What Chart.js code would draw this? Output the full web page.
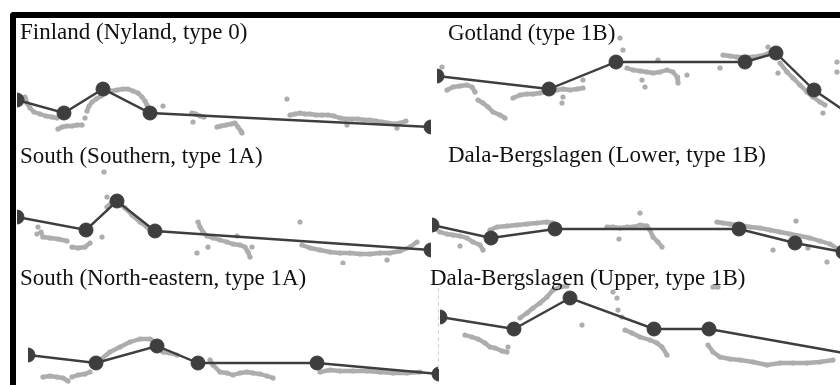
<!DOCTYPE html>
<html>
<head>
<meta charset="utf-8">
<script src="https://cdn.jsdelivr.net/npm/chart.js@4/dist/chart.umd.min.js"></script>
<style>
  html, body { margin: 0; padding: 0; background: #fff; }
  body { width: 840px; height: 385px; overflow: hidden; position: relative; }
  #frame {
    position: absolute; left: 10px; top: 12px; width: 860px; height: 400px;
    border-left: 6px solid #000; border-top: 6px solid #000;
    border-top-left-radius: 4px; box-sizing: border-box;
  }
  canvas { position: absolute; }
</style>
</head>
<body>
<div id="frame"></div>
<script>
// ---- Finland (Nyland, type 0) ----
const finlandTitle = 'Finland (Nyland, type 0)';
const finlandModelX = [0, 47, 86, 133, 414];
const finlandModelY = [37, 24, 48, 24, 10];
const finlandObs = [
  [[8,40],[10,34],[13,29],[17,25],[23,23],[29,21],[35,20],[40,19]],
  [[41,8],[45,10],[50,11],[55,11],[60,12],[65,12]],
  [[68,19]],
  [[70,26],[72,31],[75,35],[79,38],[84,41],[89,44],[94,46],[100,47],[106,48],[111,48],[116,46],[121,44],[125,40],[128,36],[130,32],[131,28]],
  [[146,31]],
  [[175,24],[179,23],[183,21],[187,20]],
  [[176,15]],
  [[200,10],[204,11],[209,12],[214,13],[218,14],[221,10],[224,6]],
  [[225,4]],
  [[270,38]],
  [[273,22],[278,23],[283,24],[288,23],[293,23],[299,22],[305,22],[311,22],[317,21],[323,19],[329,18],[335,18],[341,18],[347,17],[353,17],[359,16],[365,15],[371,14],[377,13],[383,14],[389,16]],
  [[330,12]], [[380,9]]
];

// ---- South (Southern, type 1A) ----
const southernTitle = 'South (Southern, type 1A)';
const southernModelX = [0, 69, 100, 138, 414];
const southernModelY = [48, 35, 64, 34, 15];
const southernObs = [
  [[20,31]], [[21,38]],
  [[24,33],[26,28],[33,27],[41,26],[50,24]],
  [[55,18],[61,17],[68,18],[73,22]],
  [[85,28]], [[87,93]], [[90,68]],
  [[90,58],[95,63],[101,62],[108,57],[115,50],[123,43],[130,38],[135,33]],
  [[181,43],[183,38],[186,33],[190,29],[196,27],[203,25],[210,23],[216,21],[223,20],[228,18],[231,13],[233,8]],
  [[191,18]], [[180,12]], [[220,29]], [[235,18]], [[283,43]],
  [[285,20],[293,17],[303,15],[313,13],[323,12],[333,12],[343,11],[353,11],[363,12],[373,12],[383,14],[393,18],[400,23]],
  [[326,2]], [[370,5]]
];

// ---- South (North-eastern, type 1A) ----
const northEasternTitle = 'South (North-eastern, type 1A)';
const northEasternModelX = [0, 68, 129, 170, 289, 411];
const northEasternModelY = [30, 22, 39, 22, 22, 11];
const northEasternObs = [
  [[15,8],[22,9],[29,8],[35,7],[40,4]],
  [[44,8],[50,10],[57,11],[62,13]],
  [[72,25],[82,33],[92,38],[102,43],[112,46],[122,46],[129,42],[135,33],[142,32],[149,30]],
  [[182,25],[185,20],[192,13],[199,12],[205,10],[212,12],[219,13],[225,12],[232,11],[239,9],[245,7]],
  [[292,13],[302,15],[312,14],[325,14],[339,14],[352,13],[365,12],[379,12],[392,13]]
];

// ---- Gotland (type 1B) ----
const gotlandTitle = 'Gotland (type 1B)';
const gotlandModelX = [0, 112, 179, 308, 339, 377, 418];
const gotlandModelY = [61, 48, 75, 75, 84, 47, 19];
const gotlandObs = [
  [[5,70]],
  [[10,47],[16,50],[23,51],[30,52],[35,50],[38,45]],
  [[41,37],[46,34],[51,30],[56,25],[63,22],[68,19]],
  [[76,39],[83,42],[90,43],[96,43],[103,44],[108,45]],
  [[120,47],[126,48],[133,47],[140,48],[146,49]],
  [[126,40]], [[125,34]], [[146,57]],
  [[183,99]], [[186,87]],
  [[190,69],[196,67],[203,66],[210,65],[216,64],[223,65],[230,67],[236,65],[240,60],[241,54]],
  [[205,57]], [[208,50]], [[221,77]], [[250,62]],
  [[283,69]],
  [[286,82],[293,81],[300,80],[316,80],[323,81],[330,83],[336,87]],
  [[343,74],[350,65],[356,59],[363,52],[370,45],[376,40],[383,35],[388,32]],
  [[341,64]], [[386,24]], [[400,75]], [[400,65]], [[331,90]]
];

// ---- Dala-Bergslagen (Lower, type 1B) ----
const lowerTitle = 'Dala-Bergslagen (Lower, type 1B)';
const lowerModelX = [0, 59, 123, 307, 363, 411];
const lowerModelY = [40, 27, 36, 36, 22, 13];
const lowerObs = [
  [[1,38],[8,33],[15,31],[21,30],[28,29],[35,27],[41,23],[48,20],[51,15]],
  [[28,19]],
  [[58,35],[65,38],[75,39],[85,40],[95,41],[105,42],[115,43],[121,42]],
  [[208,52]],
  [[175,38],[181,38],[188,37],[195,38],[201,38],[208,40],[215,39],[218,35],[221,28],[226,23],[230,18]],
  [[187,26]],
  [[285,43],[291,42],[298,41],[308,40],[318,38],[328,37],[338,35],[348,33],[358,31],[368,29],[378,27],[388,24],[398,21],[406,16]],
  [[364,44]], [[341,15]], [[376,17]], [[395,3]]
];

// ---- Dala-Bergslagen (Upper, type 1B) ----
const upperTitle = 'Dala-Bergslagen (Upper, type 1B)';
const upperModelX = [0, 74, 130, 214, 269, 415];
const upperModelY = [68, 56, 87, 56, 56, 30];
const upperObs = [
  [[25,50],[32,48],[38,46],[45,42],[50,38],[55,37],[62,34],[67,33]],
  [[68,38]],
  [[80,67],[87,72],[93,77],[100,82],[107,88],[113,95],[120,98],[127,99]],
  [[142,60]],
  [[173,93]], [[177,87]], [[178,75]], [[182,68]],
  [[185,55],[192,52],[200,48],[210,45],[217,42],[222,38],[227,30]],
  [[268,40],[273,33],[280,28],[290,26],[300,25],[313,23],[327,20],[340,22],[353,22],[367,22],[380,23],[393,25]],
  [[273,98],[278,98]]
];

// Panel placement on the page (canvas box, inner plot offset, title anchor)
const panels = [
  { title: finlandTitle,      mx: finlandModelX,      my: finlandModelY,      obs: finlandObs,      left: 17,  top: 17,  padL: 0,  w: 414, h: 120, tx: 3,  ty: 22 },
  { title: southernTitle,     mx: southernModelX,     my: southernModelY,     obs: southernObs,     left: 17,  top: 135, padL: 0,  w: 414, h: 130, tx: 3,  ty: 28 },
  { title: northEasternTitle, mx: northEasternModelX, my: northEasternModelY, obs: northEasternObs, left: 17,  top: 255, padL: 11, w: 411, h: 130, tx: 3,  ty: 30 },
  { title: gotlandTitle,      mx: gotlandModelX,      my: gotlandModelY,      obs: gotlandObs,      left: 437, top: 17,  padL: 0,  w: 420, h: 120, tx: 11, ty: 23 },
  { title: lowerTitle,        mx: lowerModelX,        my: lowerModelY,        obs: lowerObs,        left: 432, top: 135, padL: 0,  w: 420, h: 130, tx: 16, ty: 27 },
  { title: upperTitle,        mx: upperModelX,        my: upperModelY,        obs: upperObs,        left: 430, top: 255, padL: 10, w: 420, h: 130, tx: 0,  ty: 30, edge: true }
];

const DARK = '#3e3e3e';
const GREY = '#adadad';

// Draws the panel heading on top of the plotted data,
// plus an optional faint dashed rule along the plot's left edge
const panelTitlePlugin = {
  id: 'panelTitle',
  afterDraw(chart, args, opts) {
    const ctx = chart.ctx;
    const area = chart.chartArea;
    ctx.save();
    if (opts.edge) {
      ctx.strokeStyle = '#d4d4d4';
      ctx.lineWidth = 1;
      ctx.setLineDash([4, 3]);
      ctx.beginPath();
      ctx.moveTo(area.left - 1.5, area.top + 33);
      ctx.lineTo(area.left - 1.5, area.top + 117);
      ctx.stroke();
      ctx.setLineDash([]);
    }
    ctx.font = '23px "Liberation Serif", "Times New Roman", serif';
    ctx.fillStyle = '#111';
    ctx.textBaseline = 'alphabetic';
    ctx.textAlign = 'left';
    ctx.fillText(opts.text, opts.x, opts.y);
    ctx.restore();
  }
};

function runsToPoints(runs) {
  const pts = [];
  runs.forEach(run => {
    run.forEach(([x, y]) => pts.push({ x, y }));
    pts.push({ x: run[run.length - 1][0], y: null }); // break between runs
  });
  return pts;
}

panels.forEach(p => {
  const cv = document.createElement('canvas');
  const cw = p.padL + p.w;
  cv.width = cw; cv.height = p.h;
  cv.style.left = p.left + 'px';
  cv.style.top = p.top + 'px';
  cv.style.width = cw + 'px';
  cv.style.height = p.h + 'px';
  document.body.appendChild(cv);

  new Chart(cv.getContext('2d'), {
    type: 'scatter',
    data: {
      datasets: [
        {
          data: p.mx.map((x, i) => ({ x, y: p.my[i] })),
          showLine: true,
          borderColor: DARK,
          borderWidth: 2.4,
          pointRadius: 7,
          pointBorderWidth: 1,
          pointBackgroundColor: DARK,
          pointBorderColor: DARK,
          tension: 0,
          clip: 0,
          order: 0
        },
        {
          data: runsToPoints(p.obs),
          showLine: true,
          spanGaps: false,
          borderColor: GREY,
          borderWidth: 4.4,
          borderCapStyle: 'round',
          borderJoinStyle: 'round',
          pointRadius: 2.6,
          pointBorderWidth: 0,
          pointBackgroundColor: GREY,
          tension: 0,
          clip: 0,
          order: 1
        }
      ]
    },
    options: {
      responsive: false,
      animation: false,
      events: [],
      layout: { autoPadding: false, padding: { left: p.padL, right: 0, top: 0, bottom: 0 } },
      scales: {
        x: { type: 'linear', min: 0, max: p.w, display: false },
        y: { type: 'linear', min: 0, max: p.h, display: false }
      },
      plugins: {
        legend: { display: false },
        tooltip: { enabled: false },
        panelTitle: { text: p.title, x: p.tx, y: p.ty, edge: !!p.edge }
      }
    },
    plugins: [panelTitlePlugin]
  });
});
</script>
</body>
</html>
